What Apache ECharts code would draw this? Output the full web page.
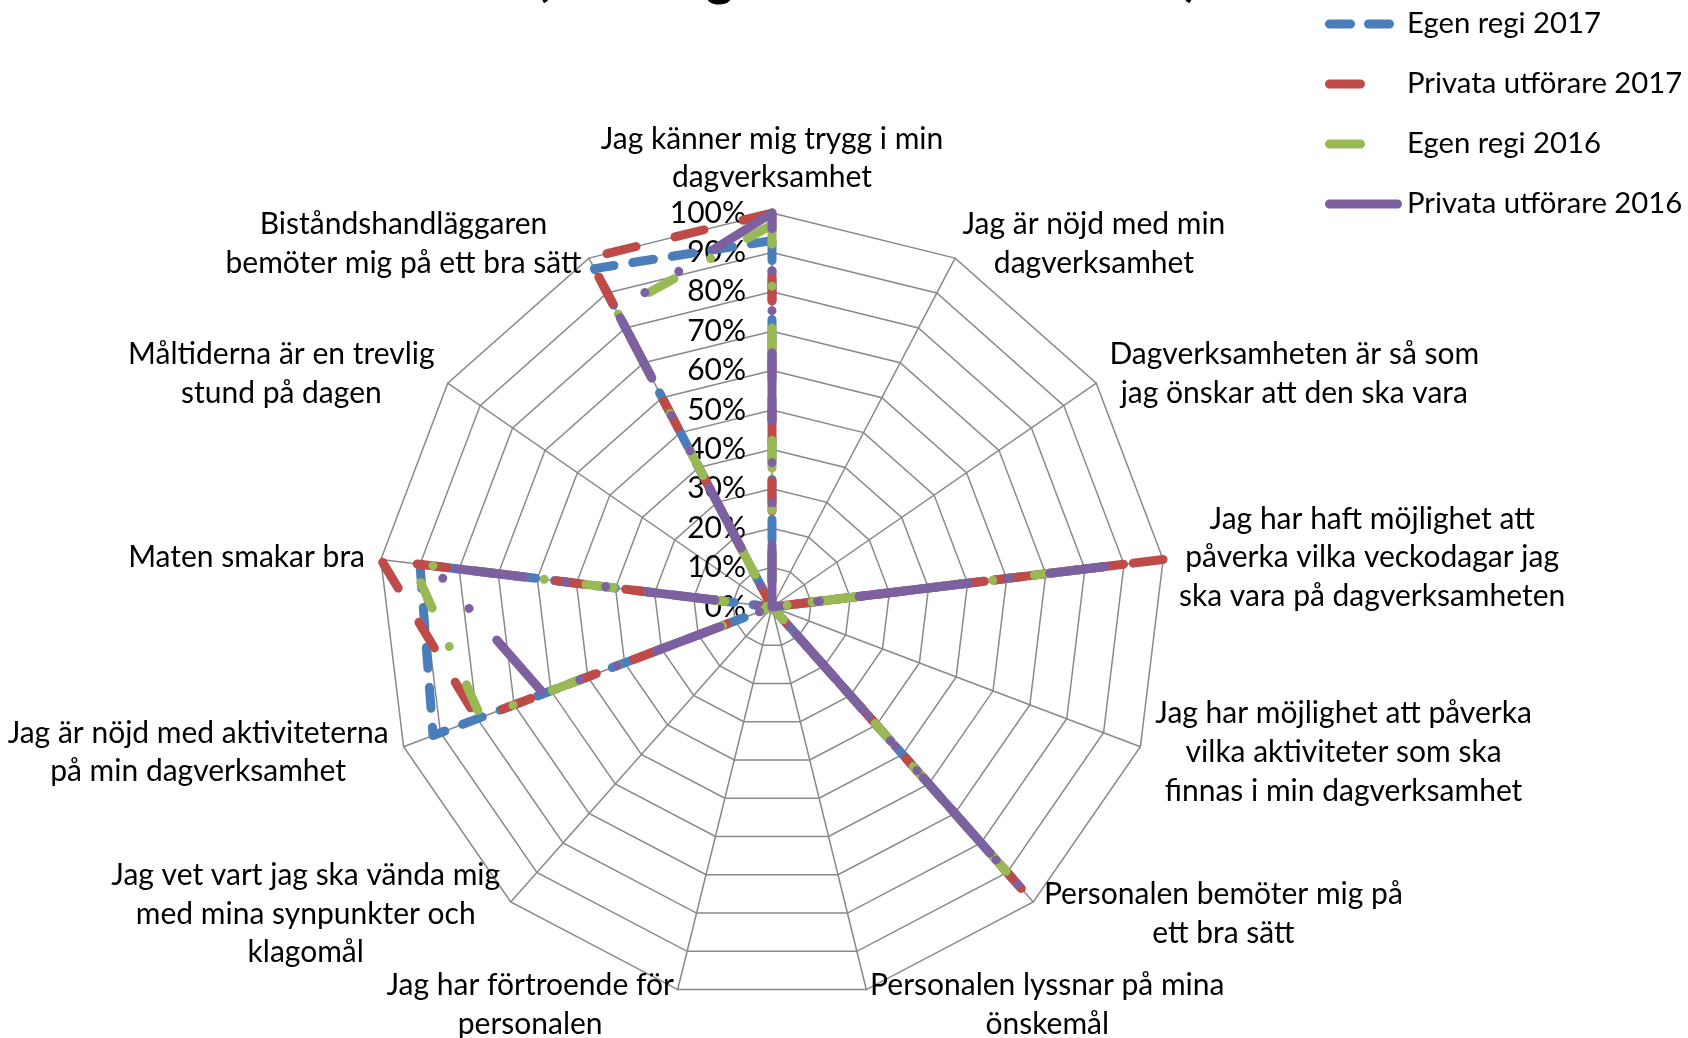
<!DOCTYPE html>
<html>
<head>
<meta charset="utf-8">
<script src="https://cdn.jsdelivr.net/npm/echarts@6/dist/echarts.min.js"></script>
<style>
html, body { margin: 0; padding: 0; background: #fff; }
#chart { width: 1688px; height: 1038px; }
</style>
</head>
<body>
<div id="chart"></div>
<script>
// frågor, medurs från toppen
var questions = [
    'Jag känner mig trygg i min\ndagverksamhet',
    'Jag är nöjd med min\ndagverksamhet',
    'Dagverksamheten är så som\njag önskar att den ska vara',
    'Jag har haft möjlighet att\npåverka vilka veckodagar jag\nska vara på dagverksamheten',
    'Jag har möjlighet att påverka\nvilka aktiviteter som ska\nfinnas i min dagverksamhet',
    'Personalen bemöter mig på\nett bra sätt',
    'Personalen lyssnar på mina\nönskemål',
    'Jag har förtroende för\npersonalen',
    'Jag vet vart jag ska vända mig\nmed mina synpunkter och\nklagomål',
    'Jag är nöjd med aktiviteterna\npå min dagverksamhet',
    'Maten smakar bra',
    'Måltiderna är en trevlig\nstund på dagen',
    'Biståndshandläggaren\nbemöter mig på ett bra sätt'
]

var seriesNames = ['Egen regi 2017', 'Privata utförare 2017', 'Egen regi 2016', 'Privata utförare 2016']

// andel (%) per fråga, samma ordning som questions
var egenRegi2017 = [93, 0, 0, 86, 0, 92, 0, 0, 0, 92, 90, 0, 97]
var privata2017 = [100, 0, 0, 100, 0, 100, 0, 0, 0, 80, 100, 0, 100]
var egenRegi2016 = [97, 0, 0, 87, 0, 93, 0, 0, 0, 79, 92, 0, 85]
var privata2016 = [100, 0, 0, 85, 0, 95, 0, 0, 0, 62, 87, 0, 85]

var colors = ['#4a7ebb', '#be4b48', '#98b954', '#7d60a0']
var dashes = [
    [21, 19],
    [30, 40],
    [28, 42, 0.01, 42],
    [68, 42, 0.01, 40, 0.01, 42]
]
// legend samples (77 x 9 box)
var tiny = ' M77,4.5 h0.01 v0.01 h-0.01 Z'
var legendIcons = [
    'path://M4.5,0 H25.5 A4.5,4.5 0 0 1 25.5,9 H4.5 A4.5,4.5 0 0 1 4.5,0 Z M43.5,0 H64.5 A4.5,4.5 0 0 1 64.5,9 H43.5 A4.5,4.5 0 0 1 43.5,0 Z' + tiny,
    'path://M4.5,0 H35.5 A4.5,4.5 0 0 1 35.5,9 H4.5 A4.5,4.5 0 0 1 4.5,0 Z' + tiny,
    'path://M4.5,0 H35.5 A4.5,4.5 0 0 1 35.5,9 H4.5 A4.5,4.5 0 0 1 4.5,0 Z' + tiny,
    'path://M4.5,0 H72.5 A4.5,4.5 0 0 1 72.5,9 H4.5 A4.5,4.5 0 0 1 4.5,0 Z' + tiny
]

var FONT = 'Lato'
var FS = 30

// echarts radar runs counter-clockwise, so reverse everything after the first axis
function cw(arr) {
    return [arr[0]].concat(arr.slice(1).reverse())
}

var indicators = cw(questions).map(function(q, i) {
    var ind = { name: q, min: 0, max: 100 }
    if (i === 0) {
        ind.axisLabel = { show: true }
    }
    return ind
})

var allData = [egenRegi2017, privata2017, egenRegi2016, privata2016]

var series = allData.map(function(d, i) {
    return {
        name: seriesNames[i],
        type: 'radar',
        symbol: 'none',
        z: 2 + i,
        lineStyle: {
            color: colors[i],
            width: 9,
            type: dashes[i],
            cap: 'round',
            join: 'round'
        },
        itemStyle: { color: colors[i] },
        data: [{ value: cw(d), name: seriesNames[i] }]
    }
})

var chart = echarts.init(document.getElementById('chart'))
chart.setOption({
    backgroundColor: '#fff',
    animation: false,
    // title sits mostly above the top edge, as in the original crop
    title: {
        text: '(Alla dagverksamheter 2017)',
        left: 530,
        top: -53,
        textStyle: { fontFamily: FONT, fontSize: 52, fontWeight: 'bold', color: '#000', lineHeight: 52 }
    },
    legend: {
        orient: 'vertical',
        left: 1320,
        top: 1,
        itemWidth: 77,
        itemHeight: 9,
        itemGap: 24,
        selectedMode: false,
        textStyle: { fontFamily: FONT, fontSize: 29.3, color: '#000', lineHeight: 36 },
        data: seriesNames.map(function(n, i) {
            return { name: n, icon: legendIcons[i], itemStyle: { color: colors[i], borderWidth: 0 } }
        })
    },
    radar: {
        center: [772, 607],
        radius: 394,
        startAngle: 90,
        splitNumber: 10,
        shape: 'polygon',
        indicator: indicators,
        axisName: {
            color: '#000',
            fontFamily: FONT,
            fontSize: FS,
            formatter: function(v) {
                return '{a|' + v + '}'
            },
            rich: {
                a: { align: 'center', fontFamily: FONT, fontSize: FS, lineHeight: 38.75, color: '#000' }
            }
        },
        nameGap: 16,
        axisLine: { lineStyle: { color: '#898989', width: 1.5 } },
        splitLine: { lineStyle: { color: '#898989', width: 1.5 } },
        splitArea: { show: false },
        axisTick: { show: false },
        axisLabel: {
            show: false,
            margin: 26,
            color: '#000',
            fontFamily: FONT,
            fontSize: FS,
            formatter: '{value}%'
        }
    },
    series: series
})

window.addEventListener('resize', function() {
    chart.resize()
})
</script>
</body>
</html>
